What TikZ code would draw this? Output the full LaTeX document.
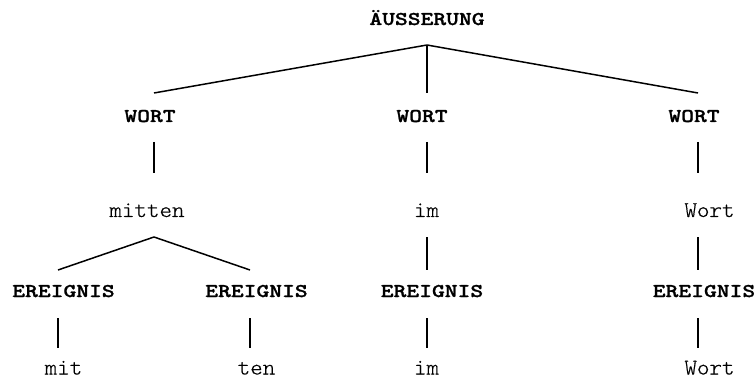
\documentclass[tikz,border=0pt]{standalone}
\usepackage{fontspec}
\usetikzlibrary{calc}
% typewriter faces for category labels and word forms
\newfontfamily\catfont{lmmonolt10-bold}[Extension=.otf,FakeBold=1.2,FakeStretch=1.25]
\newfontfamily\wrdfont{lmmonolt10-regular}[Extension=.otf,FakeBold=0.5,FakeStretch=1.06]
\tikzset{
  cat/.style={anchor=base,inner sep=0pt,text depth=0pt,font=\catfont\fontsize{19.5}{20}\selectfont},
  wrd/.style={anchor=base,inner sep=0pt,text depth=0pt,font=\wrdfont\fontsize{22.5}{23}\selectfont},
  edge/.style={line width=1.5pt}
}
\begin{document}
\begin{tikzpicture}[x=1pt,y=-1pt]
\useasboundingbox (0,0) rectangle (754,379);
% column positions of the connectors
\coordinate (cA) at (58,0);
\coordinate (cB) at (250,0);
\coordinate (c1) at (154,0);
\coordinate (c2) at (427,0);
\coordinate (c3) at (698,0);
% nodes
\node[cat] (root) at (427,25) {ÄUSSERUNG};
\node[cat] (w1) at (150,122) {WORT};
\node[cat] (w2) at (422,122) {WORT};
\node[cat] (w3) at (694,122) {WORT};
\node[wrd] (s1) at (147,217) {mitten};
\node[wrd] (s2) at (426.5,217) {im};
\node[wrd] (s3) at (709.5,217) {Wort};
\node[cat] (e1) at (63.5,297) {EREIGNIS};
\node[cat] (e2) at (256.5,297) {EREIGNIS};
\node[cat] (e3) at (432,297) {EREIGNIS};
\node[cat] (e4) at (704,297) {EREIGNIS};
\node[wrd] (l1) at (63.5,374.5) {mit};
\node[wrd] (l2) at (256.5,374.5) {ten};
\node[wrd] (l3) at (426.5,374.5) {im};
\node[wrd] (l4) at (709.5,374.5) {Wort};
% root to words
\coordinate (top) at ($(root.base -| c2)+(0,20)$);
\draw[edge] (top) -- ($(w1.base -| c1)+(0,-29)$);
\draw[edge] (top) -- ($(w2.base -| c2)+(0,-29)$);
\draw[edge] (top) -- ($(w3.base -| c3)+(0,-29)$);
% word categories to word forms
\draw[edge] ($(w1.base -| c1)+(0,20)$) -- ($(s1.base -| c1)+(0,-44)$);
\draw[edge] ($(w2.base -| c2)+(0,20)$) -- ($(s2.base -| c2)+(0,-44)$);
\draw[edge] ($(w3.base -| c3)+(0,20)$) -- ($(s3.base -| c3)+(0,-44)$);
% word forms to events
\coordinate (split) at ($(s1.base -| c1)+(0,20)$);
\draw[edge] (split) -- ($(e1.base -| cA)+(0,-27)$);
\draw[edge] (split) -- ($(e2.base -| cB)+(0,-27)$);
\draw[edge] ($(s2.base -| c2)+(0,20)$) -- ($(e3.base -| c2)+(0,-27)$);
\draw[edge] ($(s3.base -| c3)+(0,20)$) -- ($(e4.base -| c3)+(0,-27)$);
% events to segments
\draw[edge] ($(e1.base -| cA)+(0,21)$) -- ($(l1.base -| cA)+(0,-26.5)$);
\draw[edge] ($(e2.base -| cB)+(0,21)$) -- ($(l2.base -| cB)+(0,-26.5)$);
\draw[edge] ($(e3.base -| c2)+(0,21)$) -- ($(l3.base -| c2)+(0,-26.5)$);
\draw[edge] ($(e4.base -| c3)+(0,21)$) -- ($(l4.base -| c3)+(0,-26.5)$);
\end{tikzpicture}
\end{document}
